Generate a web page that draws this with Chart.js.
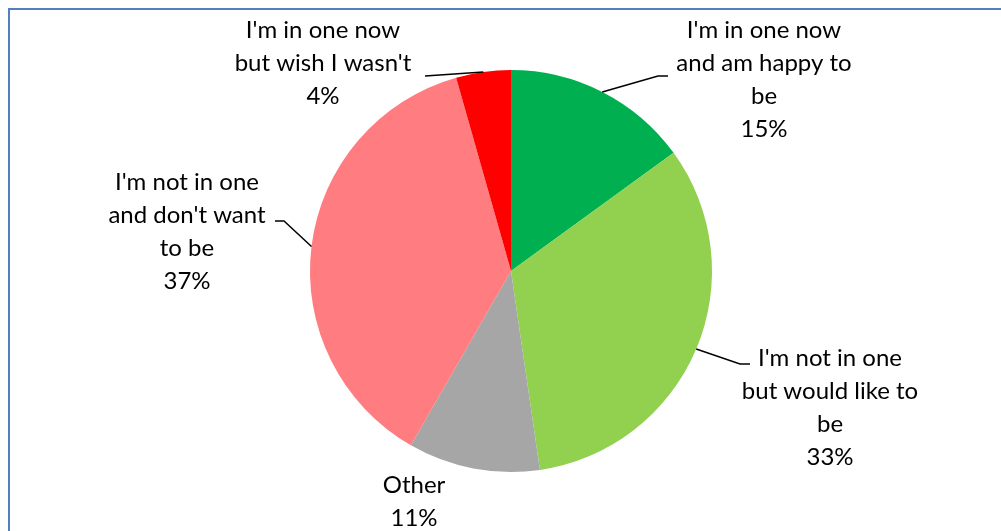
<!DOCTYPE html>
<html>
<head>
<meta charset="utf-8">
<script src="https://cdn.jsdelivr.net/npm/chart.js@4/dist/chart.umd.min.js"></script>
<style>
  html, body { margin: 0; padding: 0; background: #fff; }
  #wrap { position: relative; width: 1001px; height: 531px; overflow: hidden; }
  #frame { position: absolute; left: 8px; top: 8px; width: 1001px; height: 531px;
           border-left: 2px solid #4F81BD; border-top: 2px solid #4F81BD; box-sizing: border-box; }
  canvas { position: absolute; left: 0; top: 0; }
</style>
</head>
<body>
<div id="wrap">
  <div id="frame"></div>
  <canvas id="pieChart" width="1001" height="531"></canvas>
</div>
<script>
// Data
const categories = [
  ["I'm in one now", 'and am happy to', 'be'],
  ["I'm not in one", 'but would like to', 'be'],
  ['Other'],
  ["I'm not in one", "and don't want", 'to be'],
  ["I'm in one now", "but wish I wasn't"],
];
const shares = [15.0, 32.7, 10.6, 37.3, 4.4];
const percentLabels = ['15%', '33%', '11%', '37%', '4%'];
const sliceColors = ['#00B050', '#92D050', '#A6A6A6', '#FF7C80', '#FF0000'];

// Label placement: text centre x, first line y, elbow/end of leader line (null = no line)
const labelLayout = [
  { x: 764, y: 30, elbow: [658, 76], end: [668, 76] },
  { x: 830, y: 358, elbow: [740, 364], end: [750, 364] },
  { x: 414, y: 485, elbow: null },
  { x: 187, y: 182, elbow: [284, 221], end: [275, 221] },
  { x: 323, y: 30, elbow: [480, 73], end: [425, 76], direct: true },
];
const lineHeight = 33;

const labelPlugin = {
  id: 'pieLabels',
  afterDraw(chart) {
    const ctx = chart.ctx;
    const arcs = chart.getDatasetMeta(0).data;
    ctx.save();
    arcs.forEach((arc, i) => {
      const lay = labelLayout[i];
      // leader line from slice midpoint on the edge
      if (lay.elbow) {
        const mid = (arc.startAngle + arc.endAngle) / 2;
        const sx = arc.x + Math.cos(mid) * arc.outerRadius;
        const sy = arc.y + Math.sin(mid) * arc.outerRadius;
        ctx.beginPath();
        ctx.strokeStyle = '#000';
        ctx.lineWidth = 1.5;
        ctx.moveTo(sx, sy);
        if (!lay.direct) ctx.lineTo(lay.elbow[0], lay.elbow[1]);
        ctx.lineTo(lay.end[0], lay.end[1]);
        ctx.stroke();
      }
      // text lines
      const lines = categories[i].concat([percentLabels[i]]);
      ctx.fillStyle = '#000';
      ctx.font = '24px Lato';
      ctx.textAlign = 'center';
      ctx.textBaseline = 'middle';
      lines.forEach((t, k) => ctx.fillText(t, lay.x, lay.y + k * lineHeight));
    });
    ctx.restore();
  },
};

const ctx = document.getElementById('pieChart').getContext('2d');
new Chart(ctx, {
  type: 'pie',
  data: {
    labels: categories.map((c) => c.join(' ')),
    datasets: [
      {
        data: shares,
        backgroundColor: sliceColors,
        borderWidth: 0,
      },
    ],
  },
  options: {
    responsive: false,
    animation: false,
    layout: { padding: { left: 310, right: 289, top: 70, bottom: 59 } },
    plugins: {
      legend: { display: false },
      tooltip: { enabled: false },
    },
  },
  plugins: [labelPlugin],
});
</script>
</body>
</html>
